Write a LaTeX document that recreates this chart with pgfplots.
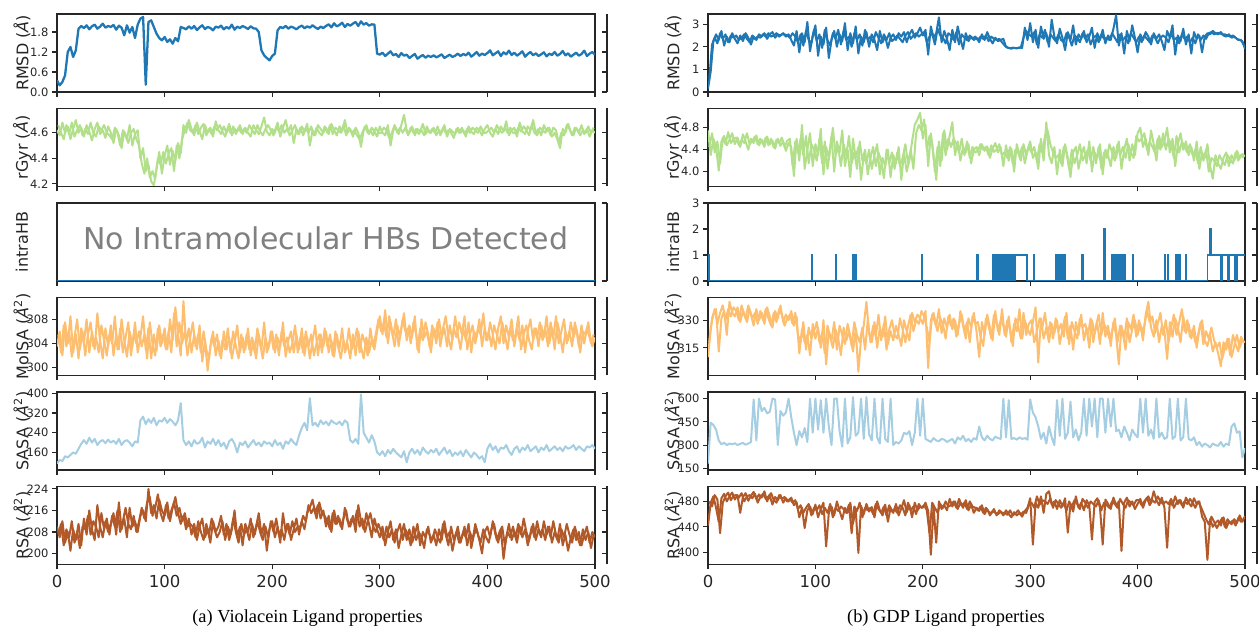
\documentclass[border=0pt]{standalone}
\usepackage{fontspec}
\setmainfont{DejaVu Sans}
\newfontfamily\capfont{Liberation Serif}
\usepackage{pgfplots}
\pgfplotsset{compat=1.18}

\definecolor{cRMSD}{HTML}{1F78B4}
\definecolor{cGyr}{HTML}{B2DF8A}
\definecolor{cMol}{HTML}{FDBF6F}
\definecolor{cSASA}{HTML}{A6CEE3}
\definecolor{cRSA}{HTML}{B15928}
\definecolor{frame}{HTML}{262626}

\pgfplotsset{
  panel/.style={
    scale only axis, anchor=south west, height=78pt,
    xmin=0, xmax=500, xtick={0,100,200,300,400,500}, xticklabels={},
    tick pos=left, tick align=outside, major tick length=5pt,
    axis line style={line width=1.2pt, frame},
    tick style={line width=1.1pt, frame},
    yticklabel style={font=\fontsize{11.5}{12}\selectfont, text=frame},
    xticklabel style={font=\fontsize{16.5}{17}\selectfont, text=frame, yshift=-2pt},
    ylabel style={at={(axis description cs:-0.065,0.5)}, anchor=center,
      font=\fontsize{16}{17}\selectfont, text=frame},
  },
  twin/.style={
    scale only axis, anchor=south west, width=10pt, height=78pt,
    xmin=0, xmax=1, hide x axis, axis y line*=right,
    tick align=inside, major tick length=5pt, yticklabels={},
    axis line style={line width=1.2pt, frame},
    tick style={line width=1.1pt, frame},
  },
  dat/.style={line width=2pt, line join=round},
}

\begin{document}
\begin{tikzpicture}
\useasboundingbox (0pt,0pt) rectangle (1259pt,629pt);

% ---------------- (a) Violacein ----------------
\begin{axis}[panel, at={(57pt,537pt)}, width=538pt, ymin=0, ymax=2.34,
  ytick={0,0.6,1.2,1.8}, yticklabels={0.0,0.6,1.2,1.8}, ylabel={RMSD (\textit{Å})}]
\addplot[dat, line width=2.3pt, cRMSD] table[x expr=\coordindex*2.5, y index=0, header=false, row sep=\\] {
0.35\\ 0.20\\ 0.30\\ 0.50\\ 1.20\\ 1.35\\ 1.05\\ 1.25\\ 1.90\\ 1.98\\
1.92\\ 2.00\\ 1.88\\ 1.97\\ 2.02\\ 1.90\\ 1.96\\ 2.05\\ 1.93\\ 1.98\\
1.95\\ 2.01\\ 1.87\\ 1.99\\ 1.93\\ 1.70\\ 2.00\\ 1.78\\ 1.95\\ 1.62\\
2.02\\ 2.20\\ 2.25\\ 0.22\\ 2.10\\ 2.15\\ 1.95\\ 1.75\\ 1.62\\ 1.55\\
1.65\\ 1.50\\ 1.58\\ 1.45\\ 1.62\\ 1.52\\ 1.95\\ 1.92\\ 1.88\\ 1.97\\
1.90\\ 1.98\\ 1.86\\ 1.94\\ 2.00\\ 1.89\\ 1.95\\ 1.92\\ 1.85\\ 1.96\\
1.93\\ 1.99\\ 1.88\\ 1.95\\ 1.90\\ 2.02\\ 1.87\\ 1.96\\ 1.92\\ 1.98\\
1.94\\ 1.89\\ 1.97\\ 1.91\\ 1.90\\ 1.80\\ 1.25\\ 1.10\\ 1.02\\ 0.95\\
1.08\\ 1.15\\ 1.85\\ 1.95\\ 1.92\\ 1.98\\ 1.90\\ 1.96\\ 1.93\\ 1.88\\
1.95\\ 1.99\\ 1.91\\ 1.97\\ 1.93\\ 2.00\\ 1.94\\ 1.89\\ 1.96\\ 1.92\\
1.98\\ 2.03\\ 1.94\\ 2.06\\ 1.97\\ 2.01\\ 2.08\\ 1.95\\ 2.04\\ 1.99\\
2.05\\ 2.10\\ 1.98\\ 2.12\\ 2.02\\ 2.07\\ 1.99\\ 2.03\\ 2.02\\ 1.15\\
1.12\\ 1.18\\ 1.08\\ 1.15\\ 1.22\\ 1.10\\ 1.14\\ 1.05\\ 1.17\\ 1.09\\
1.12\\ 1.02\\ 1.08\\ 1.14\\ 1.00\\ 1.06\\ 1.11\\ 1.03\\ 1.09\\ 1.05\\
1.10\\ 1.04\\ 1.08\\ 1.13\\ 1.02\\ 1.07\\ 1.12\\ 1.05\\ 1.09\\ 1.15\\
1.08\\ 1.14\\ 1.10\\ 1.18\\ 1.06\\ 1.12\\ 1.20\\ 1.09\\ 1.15\\ 1.11\\
1.17\\ 1.25\\ 1.10\\ 1.16\\ 1.22\\ 1.08\\ 1.19\\ 1.13\\ 1.24\\ 1.11\\
1.18\\ 1.09\\ 1.15\\ 1.22\\ 1.06\\ 1.14\\ 1.20\\ 1.10\\ 1.16\\ 1.08\\
1.13\\ 1.19\\ 1.07\\ 1.15\\ 1.11\\ 1.20\\ 1.09\\ 1.14\\ 1.23\\ 1.10\\
1.16\\ 1.06\\ 1.12\\ 1.18\\ 1.09\\ 1.14\\ 1.24\\ 1.08\\ 1.15\\ 1.20\\
1.12\\
};
\end{axis}
\begin{axis}[twin, at={(597pt,537pt)}, ymin=0, ymax=2.34, ytick={0,0.6,1.2,1.8}]\end{axis}

\begin{axis}[panel, at={(57pt,442.5pt)}, width=538pt, ymin=4.18, ymax=4.79,
  ytick={4.2,4.4,4.6}, yticklabels={4.2,4.4,4.6}, ylabel={rGyr (\textit{Å})}]
\addplot[dat, cGyr] table[x expr=\coordindex*2.5, y index=0, header=false, row sep=\\] {
4.62\\ 4.58\\ 4.68\\ 4.60\\ 4.65\\ 4.55\\ 4.63\\ 4.70\\ 4.60\\ 4.64\\
4.57\\ 4.66\\ 4.61\\ 4.54\\ 4.63\\ 4.68\\ 4.59\\ 4.62\\ 4.56\\ 4.65\\
4.60\\ 4.52\\ 4.63\\ 4.58\\ 4.48\\ 4.61\\ 4.55\\ 4.66\\ 4.50\\ 4.59\\
4.62\\ 4.40\\ 4.48\\ 4.30\\ 4.35\\ 4.22\\ 4.19\\ 4.32\\ 4.45\\ 4.28\\
4.42\\ 4.50\\ 4.35\\ 4.46\\ 4.38\\ 4.52\\ 4.44\\ 4.66\\ 4.60\\ 4.70\\
4.63\\ 4.58\\ 4.68\\ 4.61\\ 4.55\\ 4.66\\ 4.60\\ 4.64\\ 4.57\\ 4.69\\
4.62\\ 4.59\\ 4.65\\ 4.60\\ 4.67\\ 4.58\\ 4.63\\ 4.61\\ 4.66\\ 4.59\\
4.64\\ 4.60\\ 4.57\\ 4.66\\ 4.62\\ 4.59\\ 4.65\\ 4.72\\ 4.61\\ 4.58\\
4.63\\ 4.60\\ 4.68\\ 4.57\\ 4.64\\ 4.70\\ 4.61\\ 4.66\\ 4.52\\ 4.63\\
4.59\\ 4.65\\ 4.61\\ 4.67\\ 4.50\\ 4.62\\ 4.58\\ 4.66\\ 4.63\\ 4.60\\
4.64\\ 4.59\\ 4.67\\ 4.62\\ 4.58\\ 4.65\\ 4.61\\ 4.70\\ 4.60\\ 4.63\\
4.57\\ 4.64\\ 4.60\\ 4.49\\ 4.62\\ 4.66\\ 4.59\\ 4.64\\ 4.61\\ 4.57\\
4.65\\ 4.60\\ 4.58\\ 4.66\\ 4.50\\ 4.62\\ 4.64\\ 4.59\\ 4.66\\ 4.74\\
4.62\\ 4.60\\ 4.65\\ 4.58\\ 4.63\\ 4.61\\ 4.67\\ 4.59\\ 4.62\\ 4.60\\
4.64\\ 4.58\\ 4.62\\ 4.60\\ 4.66\\ 4.57\\ 4.63\\ 4.61\\ 4.59\\ 4.64\\
4.60\\ 4.62\\ 4.57\\ 4.65\\ 4.61\\ 4.59\\ 4.64\\ 4.62\\ 4.58\\ 4.63\\
4.66\\ 4.60\\ 4.57\\ 4.63\\ 4.59\\ 4.65\\ 4.61\\ 4.69\\ 4.58\\ 4.62\\
4.64\\ 4.57\\ 4.68\\ 4.61\\ 4.59\\ 4.65\\ 4.62\\ 4.70\\ 4.60\\ 4.63\\
4.58\\ 4.66\\ 4.61\\ 4.64\\ 4.57\\ 4.60\\ 4.55\\ 4.48\\ 4.63\\ 4.60\\
4.67\\ 4.61\\ 4.58\\ 4.64\\ 4.60\\ 4.66\\ 4.59\\ 4.63\\ 4.57\\ 4.62\\
4.60\\
};
\addplot[dat, cGyr] table[x expr=\coordindex*2.5+1.25, y index=0, header=false, row sep=\\] {
4.66\\ 4.60\\ 4.55\\ 4.66\\ 4.59\\ 4.68\\ 4.57\\ 4.62\\ 4.66\\ 4.58\\
4.63\\ 4.59\\ 4.68\\ 4.60\\ 4.57\\ 4.65\\ 4.62\\ 4.66\\ 4.60\\ 4.58\\
4.55\\ 4.64\\ 4.60\\ 4.50\\ 4.62\\ 4.58\\ 4.52\\ 4.60\\ 4.63\\ 4.55\\
4.50\\ 4.36\\ 4.28\\ 4.40\\ 4.25\\ 4.30\\ 4.24\\ 4.40\\ 4.35\\ 4.45\\
4.36\\ 4.44\\ 4.48\\ 4.30\\ 4.50\\ 4.40\\ 4.55\\ 4.62\\ 4.68\\ 4.62\\
4.60\\ 4.66\\ 4.59\\ 4.64\\ 4.67\\ 4.58\\ 4.63\\ 4.59\\ 4.65\\ 4.62\\
4.66\\ 4.61\\ 4.57\\ 4.64\\ 4.60\\ 4.65\\ 4.59\\ 4.64\\ 4.60\\ 4.63\\
4.60\\ 4.66\\ 4.62\\ 4.59\\ 4.66\\ 4.61\\ 4.58\\ 4.63\\ 4.66\\ 4.62\\
4.58\\ 4.65\\ 4.61\\ 4.66\\ 4.60\\ 4.63\\ 4.58\\ 4.62\\ 4.66\\ 4.59\\
4.64\\ 4.58\\ 4.63\\ 4.60\\ 4.65\\ 4.58\\ 4.64\\ 4.60\\ 4.58\\ 4.65\\
4.60\\ 4.66\\ 4.59\\ 4.64\\ 4.62\\ 4.60\\ 4.66\\ 4.58\\ 4.64\\ 4.60\\
4.62\\ 4.58\\ 4.55\\ 4.60\\ 4.65\\ 4.60\\ 4.62\\ 4.58\\ 4.64\\ 4.60\\
4.60\\ 4.64\\ 4.62\\ 4.56\\ 4.60\\ 4.66\\ 4.60\\ 4.64\\ 4.60\\ 4.64\\
4.58\\ 4.64\\ 4.60\\ 4.63\\ 4.59\\ 4.62\\ 4.58\\ 4.65\\ 4.60\\ 4.63\\
4.60\\ 4.65\\ 4.58\\ 4.64\\ 4.60\\ 4.62\\ 4.60\\ 4.56\\ 4.63\\ 4.60\\
4.64\\ 4.59\\ 4.63\\ 4.60\\ 4.64\\ 4.62\\ 4.60\\ 4.65\\ 4.60\\ 4.60\\
4.62\\ 4.64\\ 4.60\\ 4.66\\ 4.62\\ 4.60\\ 4.64\\ 4.60\\ 4.64\\ 4.60\\
4.60\\ 4.64\\ 4.61\\ 4.65\\ 4.62\\ 4.58\\ 4.66\\ 4.60\\ 4.58\\ 4.64\\
4.62\\ 4.60\\ 4.64\\ 4.58\\ 4.64\\ 4.62\\ 4.52\\ 4.60\\ 4.58\\ 4.66\\
4.63\\ 4.58\\ 4.64\\ 4.62\\ 4.58\\ 4.62\\ 4.60\\ 4.65\\ 4.60\\ 4.64\\
};
\end{axis}
\begin{axis}[twin, at={(597pt,442.5pt)}, ymin=4.18, ymax=4.79, ytick={4.2,4.4,4.6}]\end{axis}

\begin{axis}[panel, at={(57pt,348pt)}, width=538pt, ymin=0, ymax=1,
  ytick=\empty, ylabel={intraHB}]
\addplot[cRMSD, line width=1pt] coordinates {(0,0) (500,0)};
\node[text=black!50, font=\fontsize{30}{30}\selectfont] at (axis description cs:0.5,0.545) {No Intramolecular HBs Detected};
\end{axis}
\begin{axis}[twin, at={(597pt,348pt)}, ymin=0, ymax=1, ytick={0,1}]\end{axis}

\begin{axis}[panel, at={(57pt,253.5pt)}, width=538pt, ymin=298.7, ymax=311.6,
  ytick={300,304,308}, yticklabels={300,304,308}, ylabel={MolSA (\textit{Å}\textsuperscript{2})}]
\addplot[dat, cMol] table[x expr=\coordindex*2.5, y index=0, header=false, row sep=\\] {
303.5\\ 306.0\\ 302.0\\ 307.5\\ 304.0\\ 308.5\\ 302.5\\ 305.5\\ 301.5\\ 306.5\\
304.0\\ 308.0\\ 302.5\\ 306.0\\ 303.0\\ 309.0\\ 304.5\\ 301.5\\ 306.5\\ 303.5\\
307.0\\ 302.0\\ 305.5\\ 303.0\\ 308.0\\ 304.5\\ 301.8\\ 306.0\\ 303.5\\ 307.5\\
302.5\\ 305.0\\ 308.5\\ 303.0\\ 306.5\\ 301.5\\ 305.5\\ 302.8\\ 307.0\\ 304.0\\
306.5\\ 303.0\\ 308.0\\ 304.5\\ 310.0\\ 305.5\\ 302.0\\ 311.0\\ 304.0\\ 306.5\\
302.5\\ 305.5\\ 303.0\\ 307.0\\ 301.0\\ 304.5\\ 299.5\\ 303.5\\ 306.0\\ 302.0\\
304.5\\ 301.5\\ 306.0\\ 303.0\\ 305.0\\ 301.5\\ 304.0\\ 307.0\\ 302.5\\ 305.0\\
303.0\\ 306.5\\ 302.0\\ 304.5\\ 301.5\\ 305.5\\ 303.0\\ 307.5\\ 302.5\\ 304.0\\
306.0\\ 302.5\\ 305.0\\ 303.5\\ 307.5\\ 301.8\\ 304.5\\ 306.0\\ 302.5\\ 305.5\\
303.0\\ 306.5\\ 302.0\\ 305.0\\ 301.5\\ 304.5\\ 307.0\\ 302.0\\ 305.5\\ 303.5\\
306.0\\ 302.5\\ 304.5\\ 301.8\\ 305.5\\ 303.0\\ 306.5\\ 302.5\\ 304.0\\ 301.5\\
305.5\\ 302.0\\ 306.0\\ 303.5\\ 301.5\\ 305.0\\ 302.5\\ 304.5\\ 303.0\\ 306.0\\
308.5\\ 305.5\\ 309.5\\ 304.0\\ 307.5\\ 305.0\\ 308.0\\ 303.5\\ 306.5\\ 309.0\\
304.5\\ 307.0\\ 305.0\\ 308.5\\ 303.0\\ 306.5\\ 304.5\\ 307.5\\ 305.5\\ 302.5\\
306.5\\ 304.0\\ 308.0\\ 305.0\\ 306.5\\ 303.5\\ 307.0\\ 304.5\\ 308.5\\ 305.5\\
303.0\\ 306.5\\ 304.5\\ 307.5\\ 302.5\\ 306.0\\ 305.0\\ 308.0\\ 303.5\\ 306.5\\
304.5\\ 307.5\\ 305.5\\ 303.0\\ 306.5\\ 308.5\\ 304.0\\ 307.0\\ 305.0\\ 308.0\\
303.5\\ 306.5\\ 304.5\\ 307.0\\ 302.5\\ 306.0\\ 308.0\\ 304.5\\ 306.5\\ 303.5\\
307.0\\ 305.0\\ 308.5\\ 304.0\\ 306.5\\ 303.0\\ 307.5\\ 305.5\\ 302.5\\ 306.0\\
304.5\\ 307.5\\ 305.0\\ 306.5\\ 303.5\\ 307.0\\ 304.0\\ 306.5\\ 305.0\\ 303.5\\
305.0\\
};
\addplot[dat, cMol] table[x expr=\coordindex*2.5+1.25, y index=0, header=false, row sep=\\] {
305.5\\ 302.5\\ 307.0\\ 303.5\\ 306.0\\ 301.8\\ 305.0\\ 308.0\\ 303.0\\ 306.0\\
302.0\\ 305.5\\ 307.5\\ 303.5\\ 305.0\\ 302.5\\ 307.0\\ 304.5\\ 302.0\\ 305.5\\
304.0\\ 308.5\\ 303.0\\ 306.5\\ 302.5\\ 305.0\\ 307.5\\ 302.0\\ 305.5\\ 304.0\\
306.0\\ 303.5\\ 305.5\\ 301.5\\ 307.5\\ 304.0\\ 302.0\\ 306.5\\ 303.5\\ 305.5\\
303.0\\ 306.0\\ 302.5\\ 309.0\\ 303.5\\ 307.5\\ 304.0\\ 306.0\\ 302.0\\ 305.0\\
307.5\\ 303.5\\ 305.5\\ 302.5\\ 306.0\\ 303.0\\ 301.5\\ 305.0\\ 303.5\\ 305.5\\
302.0\\ 304.5\\ 303.0\\ 306.5\\ 302.5\\ 306.0\\ 303.5\\ 301.5\\ 305.5\\ 302.5\\
305.5\\ 303.0\\ 305.0\\ 302.5\\ 306.5\\ 304.0\\ 301.5\\ 305.0\\ 303.0\\ 306.0\\
303.0\\ 305.5\\ 302.0\\ 306.0\\ 303.5\\ 305.0\\ 302.5\\ 304.0\\ 307.0\\ 302.5\\
305.0\\ 302.5\\ 306.0\\ 303.5\\ 305.5\\ 302.0\\ 304.0\\ 305.5\\ 302.5\\ 306.5\\
303.5\\ 305.5\\ 302.0\\ 306.0\\ 303.5\\ 301.5\\ 304.5\\ 303.0\\ 306.5\\ 303.0\\
304.0\\ 306.5\\ 302.5\\ 305.5\\ 304.0\\ 302.0\\ 306.5\\ 303.5\\ 305.5\\ 308.0\\
306.0\\ 307.5\\ 305.0\\ 308.5\\ 306.0\\ 303.5\\ 307.0\\ 305.0\\ 308.0\\ 306.0\\
306.5\\ 304.0\\ 307.5\\ 305.5\\ 302.5\\ 308.0\\ 305.0\\ 306.0\\ 303.5\\ 307.0\\
305.0\\ 307.5\\ 303.5\\ 306.5\\ 308.5\\ 305.0\\ 303.0\\ 306.5\\ 305.0\\ 307.5\\
305.5\\ 308.5\\ 303.0\\ 305.5\\ 307.0\\ 304.0\\ 306.5\\ 305.5\\ 309.0\\ 304.5\\
306.0\\ 303.5\\ 307.0\\ 305.5\\ 304.0\\ 307.5\\ 305.5\\ 303.0\\ 306.5\\ 304.5\\
305.5\\ 308.5\\ 303.0\\ 305.5\\ 307.0\\ 304.5\\ 303.0\\ 306.5\\ 305.0\\ 307.5\\
304.5\\ 306.5\\ 303.5\\ 307.5\\ 305.0\\ 308.5\\ 304.0\\ 306.0\\ 308.0\\ 304.0\\
306.0\\ 303.5\\ 307.5\\ 305.5\\ 302.5\\ 306.0\\ 305.5\\ 307.5\\ 304.0\\ 305.5\\
};
\end{axis}
\begin{axis}[twin, at={(597pt,253.5pt)}, ymin=298.7, ymax=311.6, ytick={300,304,308}]\end{axis}

\begin{axis}[panel, at={(57pt,159pt)}, width=538pt, ymin=89, ymax=405,
  ytick={160,240,320,400}, yticklabels={160,240,320,400}, ylabel={SASA (\textit{Å}\textsuperscript{2})}]
\addplot[dat, cSASA] table[x expr=\coordindex*2.5, y index=0, header=false, row sep=\\] {
115\\ 130\\ 125\\ 145\\ 140\\ 150\\ 160\\ 155\\ 175\\ 195\\
210\\ 195\\ 220\\ 200\\ 215\\ 190\\ 205\\ 210\\ 198\\ 212\\
200\\ 208\\ 195\\ 215\\ 190\\ 205\\ 210\\ 200\\ 185\\ 205\\
200\\ 290\\ 305\\ 275\\ 295\\ 280\\ 300\\ 270\\ 290\\ 285\\
300\\ 280\\ 295\\ 285\\ 270\\ 290\\ 360\\ 210\\ 190\\ 205\\
185\\ 210\\ 195\\ 200\\ 220\\ 180\\ 205\\ 195\\ 215\\ 190\\
210\\ 185\\ 200\\ 175\\ 205\\ 215\\ 195\\ 160\\ 200\\ 190\\
205\\ 180\\ 195\\ 210\\ 190\\ 200\\ 185\\ 205\\ 195\\ 200\\
185\\ 210\\ 190\\ 200\\ 175\\ 205\\ 195\\ 215\\ 200\\ 190\\
230\\ 260\\ 280\\ 250\\ 380\\ 270\\ 280\\ 265\\ 290\\ 275\\
285\\ 270\\ 290\\ 280\\ 275\\ 285\\ 270\\ 290\\ 280\\ 210\\
200\\ 215\\ 195\\ 395\\ 240\\ 220\\ 200\\ 230\\ 205\\ 160\\
150\\ 165\\ 145\\ 170\\ 155\\ 175\\ 160\\ 150\\ 140\\ 165\\
120\\ 160\\ 175\\ 155\\ 170\\ 150\\ 180\\ 165\\ 155\\ 170\\
160\\ 175\\ 150\\ 165\\ 180\\ 155\\ 170\\ 145\\ 160\\ 150\\
165\\ 145\\ 170\\ 155\\ 140\\ 160\\ 150\\ 135\\ 145\\ 120\\
175\\ 195\\ 170\\ 185\\ 160\\ 180\\ 175\\ 190\\ 165\\ 150\\
175\\ 185\\ 160\\ 180\\ 170\\ 190\\ 165\\ 175\\ 185\\ 160\\
180\\ 170\\ 190\\ 165\\ 175\\ 185\\ 170\\ 180\\ 165\\ 185\\
175\\ 180\\ 190\\ 170\\ 185\\ 175\\ 165\\ 185\\ 180\\ 190\\
175\\
};
\end{axis}
\begin{axis}[twin, at={(597pt,159pt)}, ymin=89, ymax=405, ytick={160,240,320,400}]\end{axis}

\begin{axis}[panel, at={(57pt,64.5pt)}, width=538pt, ymin=195.9, ymax=224.9,
  ytick={200,208,216,224}, yticklabels={200,208,216,224}, ylabel={RSA (\textit{Å}\textsuperscript{2})},
  xticklabels={0,100,200,300,400,500}]
\addplot[dat, cRSA] table[x expr=\coordindex*2.5, y index=0, header=false, row sep=\\] {
210\\ 206\\ 212\\ 204\\ 208\\ 201\\ 209\\ 205\\ 211\\ 203\\
213\\ 207\\ 216\\ 209\\ 205\\ 218\\ 210\\ 206\\ 212\\ 208\\
211\\ 215\\ 207\\ 219\\ 209\\ 213\\ 206\\ 217\\ 210\\ 212\\
208\\ 214\\ 216\\ 212\\ 224\\ 215\\ 218\\ 213\\ 220\\ 216\\
214\\ 219\\ 212\\ 217\\ 221\\ 215\\ 211\\ 214\\ 209\\ 213\\
207\\ 211\\ 205\\ 210\\ 213\\ 206\\ 209\\ 204\\ 212\\ 208\\
210\\ 214\\ 207\\ 211\\ 205\\ 209\\ 216\\ 206\\ 210\\ 203\\
211\\ 208\\ 213\\ 206\\ 210\\ 215\\ 207\\ 211\\ 201\\ 209\\
212\\ 206\\ 210\\ 204\\ 215\\ 208\\ 211\\ 205\\ 209\\ 213\\
207\\ 212\\ 209\\ 215\\ 217\\ 220\\ 215\\ 218\\ 213\\ 216\\
210\\ 214\\ 208\\ 216\\ 211\\ 213\\ 209\\ 217\\ 212\\ 210\\
214\\ 208\\ 218\\ 212\\ 209\\ 215\\ 211\\ 206\\ 213\\ 209\\
206\\ 210\\ 203\\ 208\\ 212\\ 205\\ 209\\ 202\\ 207\\ 211\\
205\\ 209\\ 204\\ 207\\ 211\\ 203\\ 208\\ 206\\ 210\\ 204\\
207\\ 203\\ 209\\ 205\\ 212\\ 206\\ 208\\ 201\\ 206\\ 210\\
204\\ 208\\ 206\\ 211\\ 202\\ 207\\ 209\\ 205\\ 200\\ 208\\
210\\ 206\\ 212\\ 207\\ 204\\ 209\\ 198\\ 206\\ 211\\ 205\\
208\\ 204\\ 210\\ 206\\ 209\\ 203\\ 207\\ 211\\ 205\\ 209\\
206\\ 212\\ 207\\ 210\\ 204\\ 208\\ 205\\ 211\\ 203\\ 207\\
201\\ 206\\ 209\\ 205\\ 208\\ 203\\ 207\\ 210\\ 204\\ 208\\
206\\
};
\addplot[dat, cRSA] table[x expr=\coordindex*2.5+1.25, y index=0, header=false, row sep=\\] {
207\\ 211\\ 203\\ 209\\ 206\\ 212\\ 204\\ 208\\ 202\\ 210\\
209\\ 214\\ 207\\ 212\\ 210\\ 206\\ 215\\ 209\\ 213\\ 207\\
214\\ 210\\ 216\\ 208\\ 212\\ 217\\ 211\\ 209\\ 214\\ 208\\
212\\ 217\\ 213\\ 219\\ 221\\ 214\\ 217\\ 222\\ 215\\ 212\\
218\\ 213\\ 216\\ 219\\ 214\\ 217\\ 212\\ 215\\ 210\\ 211\\
210\\ 206\\ 212\\ 208\\ 205\\ 211\\ 207\\ 213\\ 209\\ 206\\
208\\ 212\\ 205\\ 210\\ 207\\ 213\\ 208\\ 204\\ 211\\ 207\\
209\\ 205\\ 211\\ 207\\ 212\\ 208\\ 205\\ 210\\ 206\\ 212\\
208\\ 213\\ 207\\ 209\\ 205\\ 211\\ 207\\ 212\\ 208\\ 210\\
210\\ 214\\ 212\\ 218\\ 215\\ 217\\ 213\\ 219\\ 215\\ 214\\
212\\ 209\\ 215\\ 211\\ 214\\ 210\\ 213\\ 216\\ 210\\ 213\\
211\\ 216\\ 210\\ 213\\ 208\\ 212\\ 215\\ 210\\ 208\\ 211\\
208\\ 205\\ 210\\ 206\\ 209\\ 204\\ 208\\ 211\\ 205\\ 209\\
207\\ 203\\ 210\\ 205\\ 208\\ 206\\ 202\\ 209\\ 207\\ 205\\
209\\ 206\\ 204\\ 211\\ 207\\ 203\\ 210\\ 205\\ 208\\ 204\\
206\\ 210\\ 203\\ 208\\ 205\\ 211\\ 207\\ 204\\ 209\\ 206\\
204\\ 209\\ 211\\ 205\\ 208\\ 210\\ 203\\ 208\\ 206\\ 210\\
206\\ 211\\ 207\\ 213\\ 208\\ 205\\ 210\\ 206\\ 212\\ 207\\
209\\ 205\\ 210\\ 206\\ 212\\ 207\\ 204\\ 209\\ 206\\ 211\\
207\\ 204\\ 210\\ 206\\ 203\\ 209\\ 205\\ 208\\ 202\\ 207\\
};
\end{axis}
\begin{axis}[twin, at={(597pt,64.5pt)}, ymin=195.9, ymax=224.9, ytick={200,208,216,224}]\end{axis}

% ---------------- (b) GDP ----------------
\begin{axis}[panel, at={(708pt,537pt)}, width=537pt, ymin=0, ymax=3.45,
  ytick={0,1,2,3}, yticklabels={0,1,2,3}, ylabel={RMSD (\textit{Å})}]
\addplot[dat, cRMSD] table[x expr=\coordindex*2.5, y index=0, header=false, row sep=\\] {
0.15\\ 0.90\\ 2.25\\ 2.55\\ 2.30\\ 2.70\\ 2.05\\ 2.45\\ 2.20\\ 2.60\\
2.35\\ 2.15\\ 2.50\\ 2.25\\ 2.60\\ 2.40\\ 2.10\\ 2.45\\ 2.30\\ 2.55\\
2.45\\ 2.60\\ 2.35\\ 2.55\\ 2.65\\ 2.40\\ 2.55\\ 2.50\\ 2.60\\ 2.45\\
2.55\\ 2.30\\ 2.05\\ 2.70\\ 1.75\\ 2.60\\ 2.20\\ 3.10\\ 1.80\\ 2.50\\
2.95\\ 1.60\\ 2.45\\ 2.10\\ 2.85\\ 1.50\\ 2.30\\ 2.70\\ 2.00\\ 2.55\\
2.25\\ 3.05\\ 1.85\\ 2.60\\ 2.15\\ 2.90\\ 1.70\\ 2.45\\ 2.20\\ 2.65\\
2.00\\ 2.55\\ 2.30\\ 1.85\\ 2.70\\ 2.20\\ 2.45\\ 1.95\\ 2.40\\ 2.55\\
2.30\\ 2.60\\ 2.45\\ 2.65\\ 2.20\\ 2.55\\ 2.75\\ 2.40\\ 2.60\\ 2.85\\
2.50\\ 2.75\\ 1.65\\ 2.90\\ 2.40\\ 2.60\\ 3.30\\ 2.20\\ 2.70\\ 2.35\\
1.85\\ 2.75\\ 2.20\\ 2.90\\ 2.35\\ 1.90\\ 2.60\\ 2.25\\ 2.45\\ 2.30\\
2.40\\ 2.20\\ 2.55\\ 2.30\\ 2.65\\ 2.35\\ 2.15\\ 2.40\\ 2.25\\ 2.30\\
2.35\\ 2.00\\ 1.95\\ 1.92\\ 1.95\\ 1.93\\ 1.97\\ 1.95\\ 2.85\\ 2.30\\
3.05\\ 2.20\\ 2.75\\ 1.95\\ 2.90\\ 2.35\\ 2.60\\ 2.00\\ 3.20\\ 2.45\\
2.15\\ 2.80\\ 2.40\\ 1.85\\ 2.65\\ 2.30\\ 2.95\\ 2.10\\ 2.55\\ 2.35\\
2.70\\ 2.20\\ 2.45\\ 2.85\\ 1.95\\ 2.60\\ 2.30\\ 2.75\\ 2.15\\ 2.50\\
2.30\\ 2.80\\ 3.40\\ 2.05\\ 2.60\\ 1.70\\ 2.70\\ 2.25\\ 2.95\\ 2.40\\
1.75\\ 2.55\\ 2.30\\ 2.65\\ 2.45\\ 2.10\\ 2.60\\ 2.35\\ 2.55\\ 2.25\\
1.85\\ 2.70\\ 2.40\\ 2.95\\ 1.65\\ 2.50\\ 2.25\\ 2.80\\ 2.10\\ 2.55\\
1.70\\ 2.65\\ 2.35\\ 2.50\\ 1.75\\ 2.45\\ 2.60\\ 2.55\\ 2.70\\ 2.60\\
2.55\\ 2.65\\ 2.50\\ 2.45\\ 2.55\\ 2.40\\ 2.45\\ 2.35\\ 2.30\\ 2.25\\
1.90\\
};
\addplot[dat, cRMSD] table[x expr=\coordindex*2.5+1.25, y index=0, header=false, row sep=\\] {
0.60\\ 2.10\\ 2.40\\ 2.15\\ 2.60\\ 2.35\\ 2.55\\ 2.20\\ 2.50\\ 2.40\\
2.50\\ 2.30\\ 2.40\\ 2.55\\ 2.35\\ 2.20\\ 2.50\\ 2.35\\ 2.45\\ 2.40\\
2.55\\ 2.45\\ 2.60\\ 2.45\\ 2.50\\ 2.60\\ 2.45\\ 2.55\\ 2.55\\ 2.50\\
2.40\\ 2.60\\ 2.45\\ 2.20\\ 2.55\\ 2.05\\ 2.70\\ 2.30\\ 2.15\\ 2.75\\
2.25\\ 2.55\\ 1.95\\ 2.75\\ 2.30\\ 2.05\\ 2.60\\ 2.35\\ 2.75\\ 2.10\\
2.70\\ 2.30\\ 2.45\\ 2.00\\ 2.60\\ 2.30\\ 2.55\\ 2.05\\ 2.75\\ 2.30\\
2.45\\ 2.20\\ 2.65\\ 2.40\\ 2.15\\ 2.55\\ 2.30\\ 2.60\\ 2.25\\ 2.35\\
2.50\\ 2.35\\ 2.20\\ 2.50\\ 2.65\\ 2.35\\ 2.50\\ 2.60\\ 2.45\\ 2.55\\
2.65\\ 2.20\\ 2.45\\ 2.60\\ 2.10\\ 2.80\\ 2.50\\ 2.40\\ 2.15\\ 2.60\\
2.50\\ 2.30\\ 2.65\\ 2.10\\ 2.55\\ 2.40\\ 2.30\\ 2.50\\ 2.35\\ 2.45\\
2.30\\ 2.45\\ 2.35\\ 2.50\\ 2.25\\ 2.45\\ 2.35\\ 2.30\\ 2.35\\ 2.20\\
2.05\\ 1.96\\ 1.94\\ 1.96\\ 1.94\\ 1.95\\ 1.96\\ 2.40\\ 2.70\\ 2.55\\
2.45\\ 2.65\\ 2.10\\ 2.55\\ 2.40\\ 2.75\\ 2.20\\ 2.55\\ 2.40\\ 2.25\\
2.55\\ 2.30\\ 2.20\\ 2.60\\ 2.40\\ 2.05\\ 2.50\\ 2.40\\ 2.20\\ 2.60\\
2.35\\ 2.55\\ 2.10\\ 2.40\\ 2.50\\ 2.20\\ 2.55\\ 2.35\\ 2.40\\ 2.30\\
2.60\\ 2.40\\ 2.20\\ 2.55\\ 2.30\\ 2.45\\ 2.15\\ 2.60\\ 2.40\\ 2.20\\
2.45\\ 2.20\\ 2.50\\ 2.35\\ 2.20\\ 2.50\\ 2.40\\ 2.15\\ 2.40\\ 2.50\\
2.40\\ 2.20\\ 2.60\\ 2.30\\ 2.40\\ 2.15\\ 2.55\\ 2.35\\ 2.45\\ 2.20\\
2.40\\ 2.15\\ 2.55\\ 2.30\\ 2.50\\ 2.35\\ 2.60\\ 2.65\\ 2.55\\ 2.60\\
2.60\\ 2.55\\ 2.55\\ 2.50\\ 2.45\\ 2.50\\ 2.40\\ 2.30\\ 2.30\\ 2.10\\
};
\end{axis}
\begin{axis}[twin, at={(1247pt,537pt)}, ymin=0, ymax=3.45, ytick={0,1,2,3}]\end{axis}

\begin{axis}[panel, at={(708pt,442.5pt)}, width=537pt, ymin=3.73, ymax=5.15,
  ytick={4.0,4.4,4.8}, yticklabels={4.0,4.4,4.8}, ylabel={rGyr (\textit{Å})}]
\addplot[dat, cGyr] table[x expr=\coordindex*2.5, y index=0, header=false, row sep=\\] {
4.75\\ 4.30\\ 4.60\\ 4.45\\ 4.02\\ 4.55\\ 4.65\\ 4.48\\ 4.58\\ 4.70\\
4.50\\ 4.62\\ 4.45\\ 4.68\\ 4.55\\ 4.40\\ 4.60\\ 4.52\\ 4.66\\ 4.48\\
4.58\\ 4.45\\ 4.64\\ 4.50\\ 4.56\\ 4.42\\ 4.60\\ 4.47\\ 4.55\\ 4.38\\
4.52\\ 4.45\\ 3.92\\ 4.60\\ 4.20\\ 4.85\\ 4.05\\ 4.40\\ 4.70\\ 4.10\\
4.50\\ 4.30\\ 4.78\\ 3.95\\ 4.45\\ 4.25\\ 4.65\\ 4.00\\ 4.55\\ 4.35\\
4.75\\ 4.10\\ 4.40\\ 3.90\\ 4.60\\ 4.25\\ 4.45\\ 3.85\\ 4.30\\ 4.15\\
4.40\\ 4.05\\ 4.30\\ 4.50\\ 3.95\\ 4.25\\ 4.10\\ 4.40\\ 3.90\\ 4.30\\
4.15\\ 4.45\\ 3.85\\ 4.35\\ 4.00\\ 4.20\\ 4.55\\ 4.85\\ 4.95\\ 5.07\\
4.60\\ 4.85\\ 4.10\\ 4.70\\ 4.30\\ 3.85\\ 4.55\\ 4.20\\ 4.75\\ 4.40\\
4.65\\ 4.90\\ 4.30\\ 4.55\\ 4.20\\ 4.45\\ 4.35\\ 4.50\\ 4.15\\ 4.40\\
4.45\\ 4.30\\ 4.50\\ 4.38\\ 4.46\\ 4.25\\ 4.42\\ 4.52\\ 4.35\\ 4.44\\
4.10\\ 4.48\\ 4.20\\ 4.42\\ 4.00\\ 4.50\\ 4.30\\ 4.45\\ 4.15\\ 4.40\\
4.55\\ 4.25\\ 4.35\\ 4.05\\ 4.60\\ 4.20\\ 4.90\\ 4.30\\ 4.15\\ 4.45\\
3.95\\ 4.40\\ 4.10\\ 4.50\\ 4.25\\ 3.90\\ 4.35\\ 4.45\\ 4.05\\ 4.30\\
4.45\\ 4.15\\ 4.55\\ 4.00\\ 4.35\\ 4.25\\ 4.50\\ 3.95\\ 4.40\\ 4.30\\
4.10\\ 4.45\\ 4.25\\ 4.55\\ 4.05\\ 4.40\\ 4.60\\ 4.20\\ 4.50\\ 4.30\\
4.70\\ 4.80\\ 4.45\\ 4.60\\ 4.30\\ 4.75\\ 4.50\\ 4.20\\ 4.65\\ 4.45\\
4.55\\ 4.80\\ 4.35\\ 4.60\\ 4.10\\ 4.50\\ 4.70\\ 4.40\\ 4.55\\ 4.30\\
4.45\\ 4.20\\ 4.55\\ 4.05\\ 4.35\\ 4.25\\ 4.50\\ 4.10\\ 3.87\\ 4.30\\
4.15\\ 4.05\\ 4.25\\ 4.35\\ 4.10\\ 4.30\\ 4.20\\ 4.38\\ 4.25\\ 4.32\\
4.28\\
};
\addplot[dat, cGyr] table[x expr=\coordindex*2.5+1.25, y index=0, header=false, row sep=\\] {
4.45\\ 4.70\\ 4.35\\ 4.55\\ 4.15\\ 4.62\\ 4.50\\ 4.72\\ 4.52\\ 4.60\\
4.62\\ 4.48\\ 4.58\\ 4.52\\ 4.70\\ 4.50\\ 4.56\\ 4.64\\ 4.50\\ 4.60\\
4.50\\ 4.62\\ 4.48\\ 4.60\\ 4.44\\ 4.58\\ 4.52\\ 4.62\\ 4.45\\ 4.56\\
4.60\\ 4.10\\ 4.55\\ 4.35\\ 4.60\\ 4.30\\ 4.65\\ 4.15\\ 4.50\\ 4.40\\
4.20\\ 4.60\\ 4.15\\ 4.55\\ 4.05\\ 4.40\\ 4.80\\ 4.30\\ 4.45\\ 4.10\\
4.50\\ 4.30\\ 4.65\\ 4.15\\ 4.35\\ 4.05\\ 4.55\\ 4.20\\ 4.40\\ 3.95\\
4.25\\ 4.45\\ 4.10\\ 4.35\\ 4.20\\ 3.88\\ 4.40\\ 4.15\\ 4.35\\ 4.05\\
4.35\\ 4.10\\ 4.25\\ 4.50\\ 4.15\\ 4.40\\ 4.05\\ 4.70\\ 4.85\\ 4.75\\
4.95\\ 4.40\\ 4.65\\ 4.50\\ 4.00\\ 4.45\\ 4.10\\ 4.70\\ 4.30\\ 4.60\\
4.45\\ 4.60\\ 4.50\\ 4.35\\ 4.60\\ 4.30\\ 4.55\\ 4.25\\ 4.45\\ 4.35\\
4.38\\ 4.50\\ 4.40\\ 4.45\\ 4.30\\ 4.48\\ 4.36\\ 4.40\\ 4.50\\ 4.30\\
4.35\\ 4.25\\ 4.45\\ 4.15\\ 4.40\\ 4.35\\ 4.20\\ 4.50\\ 4.30\\ 4.45\\
4.35\\ 4.45\\ 4.20\\ 4.50\\ 4.35\\ 4.65\\ 4.75\\ 4.50\\ 4.35\\ 4.25\\
4.30\\ 4.15\\ 4.45\\ 4.35\\ 4.05\\ 4.40\\ 4.15\\ 4.30\\ 4.50\\ 4.20\\
4.30\\ 4.40\\ 4.20\\ 4.45\\ 4.15\\ 4.45\\ 4.05\\ 4.35\\ 4.25\\ 4.50\\
4.35\\ 4.20\\ 4.50\\ 4.30\\ 4.45\\ 4.25\\ 4.50\\ 4.35\\ 4.25\\ 4.65\\
4.55\\ 4.60\\ 4.70\\ 4.40\\ 4.55\\ 4.45\\ 4.35\\ 4.60\\ 4.40\\ 4.70\\
4.40\\ 4.60\\ 4.50\\ 4.25\\ 4.65\\ 4.35\\ 4.55\\ 4.45\\ 4.35\\ 4.50\\
4.30\\ 4.40\\ 4.15\\ 4.45\\ 4.20\\ 4.40\\ 4.00\\ 4.25\\ 4.20\\ 4.10\\
4.30\\ 4.20\\ 4.12\\ 4.30\\ 4.22\\ 4.15\\ 4.35\\ 4.20\\ 4.30\\ 4.25\\
};
\end{axis}
\begin{axis}[twin, at={(1247pt,442.5pt)}, ymin=3.73, ymax=5.15, ytick={4.0,4.4,4.8}]\end{axis}

\begin{axis}[panel, at={(708pt,348pt)}, width=537pt, ymin=0, ymax=3,
  ytick={0,1,2,3}, yticklabels={0,1,2,3}, ylabel={intraHB}]
\addplot[cRMSD, line width=1.8pt, const plot] coordinates {
(0,0)(0,1)(0.8,0)(96.5,1)(97.2,0)(118.9,1)(119.6,0)(135.3,1)(136,0)(136.8,1)(137.5,0)
(199,1)(199.7,0)(250.7,1)(251.4,0)(265.6,1)(266.2,0)(267.5,1)(268.2,0)(269.5,1)(270,0)
(271,1)(271.8,0)(273,1)(273.6,0)(274.9,1)(275.5,0)(276.5,1)(277.2,0)(278.5,1)(279,0)
(280,1)(280.6,0)(282,1)(282.6,0)(284,1)(284.6,0)(286,1)(296.7,0)(303,1)(303.7,0)
(324,1)(324.6,0)(326.5,1)(327.2,0)(329,1)(329.6,0)(331.8,1)(332.4,0)(348.5,1)(349.2,0)
(368.7,2)(369.4,0)(375.8,1)(376.4,0)(378,1)(378.7,0)(380.5,1)(381.2,0)(383,1)(383.6,0)
(385,1)(385.6,0)(387.5,1)(388.2,0)(395.5,1)(396.2,0)(425,1)(425.6,0)(428,1)(428.6,0)
(435.7,1)(436.4,0)(438.8,1)(439.4,0)(445,1)(445.6,0)(465,1)(467.6,2)(468.4,1)(477.8,0)
(478.5,1)(483.8,0)(485.5,1)(490.6,0)(492.2,1)(500,1)
};
\end{axis}
\begin{axis}[twin, at={(1247pt,348pt)}, ymin=0, ymax=3, ytick={0,1,2,3}]\end{axis}

\begin{axis}[panel, at={(708pt,253.5pt)}, width=537pt, ymin=300, ymax=342.3,
  ytick={315,330}, yticklabels={315,330}, ylabel={MolSA (\textit{Å}\textsuperscript{2})}]
\addplot[dat, cMol] table[x expr=\coordindex*2.5, y index=0, header=false, row sep=\\] {
310\\ 326\\ 333\\ 336\\ 313\\ 331\\ 335\\ 322\\ 340\\ 334\\
332\\ 337\\ 329\\ 335\\ 331\\ 338\\ 333\\ 327\\ 336\\ 330\\
334\\ 328\\ 337\\ 332\\ 326\\ 335\\ 331\\ 338\\ 329\\ 333\\
330\\ 335\\ 327\\ 332\\ 312\\ 325\\ 318\\ 322\\ 311\\ 328\\
320\\ 326\\ 315\\ 330\\ 306\\ 324\\ 319\\ 329\\ 314\\ 327\\
322\\ 317\\ 328\\ 321\\ 313\\ 325\\ 302\\ 320\\ 327\\ 340\\
323\\ 318\\ 329\\ 315\\ 326\\ 321\\ 332\\ 317\\ 324\\ 319\\
327\\ 322\\ 316\\ 330\\ 324\\ 319\\ 334\\ 329\\ 333\\ 331\\
328\\ 335\\ 304\\ 330\\ 334\\ 327\\ 336\\ 323\\ 331\\ 326\\
333\\ 325\\ 330\\ 322\\ 335\\ 327\\ 320\\ 331\\ 326\\ 334\\
324\\ 310\\ 329\\ 322\\ 333\\ 326\\ 319\\ 335\\ 324\\ 330\\
327\\ 321\\ 332\\ 318\\ 328\\ 324\\ 336\\ 320\\ 330\\ 325\\
322\\ 329\\ 337\\ 307\\ 331\\ 320\\ 326\\ 318\\ 328\\ 323\\
330\\ 317\\ 325\\ 332\\ 320\\ 327\\ 314\\ 329\\ 322\\ 333\\
319\\ 326\\ 315\\ 330\\ 323\\ 328\\ 317\\ 334\\ 321\\ 327\\
316\\ 329\\ 322\\ 306\\ 327\\ 320\\ 331\\ 318\\ 325\\ 330\\
322\\ 328\\ 319\\ 333\\ 340\\ 326\\ 321\\ 330\\ 318\\ 327\\
324\\ 309\\ 329\\ 321\\ 331\\ 326\\ 318\\ 332\\ 323\\ 328\\
320\\ 327\\ 315\\ 325\\ 330\\ 319\\ 316\\ 322\\ 313\\ 318\\
312\\ 305\\ 318\\ 314\\ 320\\ 310\\ 316\\ 322\\ 315\\ 319\\
318\\
};
\addplot[dat, cMol] table[x expr=\coordindex*2.5+1.25, y index=0, header=false, row sep=\\] {
318\\ 331\\ 336\\ 328\\ 334\\ 338\\ 330\\ 336\\ 332\\ 337\\
335\\ 330\\ 338\\ 333\\ 329\\ 336\\ 331\\ 334\\ 328\\ 335\\
330\\ 336\\ 331\\ 327\\ 334\\ 329\\ 336\\ 333\\ 327\\ 331\\
333\\ 328\\ 334\\ 322\\ 318\\ 329\\ 314\\ 326\\ 320\\ 324\\
329\\ 318\\ 323\\ 312\\ 327\\ 321\\ 315\\ 325\\ 320\\ 311\\
326\\ 319\\ 324\\ 316\\ 329\\ 322\\ 318\\ 326\\ 314\\ 330\\
318\\ 327\\ 321\\ 333\\ 319\\ 328\\ 314\\ 325\\ 330\\ 322\\
320\\ 331\\ 325\\ 318\\ 327\\ 333\\ 324\\ 330\\ 328\\ 335\\
332\\ 326\\ 318\\ 333\\ 329\\ 324\\ 331\\ 328\\ 320\\ 332\\
327\\ 331\\ 321\\ 328\\ 333\\ 324\\ 329\\ 318\\ 332\\ 328\\
329\\ 321\\ 316\\ 331\\ 327\\ 320\\ 333\\ 328\\ 322\\ 336\\
322\\ 330\\ 325\\ 316\\ 331\\ 327\\ 320\\ 334\\ 322\\ 328\\
330\\ 318\\ 324\\ 331\\ 326\\ 334\\ 322\\ 329\\ 320\\ 331\\
324\\ 328\\ 321\\ 334\\ 317\\ 329\\ 324\\ 320\\ 331\\ 326\\
328\\ 322\\ 331\\ 318\\ 327\\ 333\\ 322\\ 328\\ 325\\ 320\\
324\\ 331\\ 318\\ 327\\ 323\\ 314\\ 329\\ 325\\ 333\\ 321\\
330\\ 324\\ 327\\ 335\\ 329\\ 332\\ 323\\ 328\\ 334\\ 322\\
330\\ 318\\ 326\\ 333\\ 322\\ 329\\ 336\\ 324\\ 330\\ 321\\
325\\ 318\\ 322\\ 329\\ 317\\ 324\\ 320\\ 326\\ 319\\ 315\\
318\\ 309\\ 315\\ 320\\ 311\\ 322\\ 317\\ 313\\ 321\\ 318\\
};
\end{axis}
\begin{axis}[twin, at={(1247pt,253.5pt)}, ymin=300, ymax=342.3, ytick={315,330}]\end{axis}

\begin{axis}[panel, at={(708pt,159pt)}, width=537pt, ymin=139, ymax=643,
  ytick={150,300,450,600}, yticklabels={150,300,450,600}, ylabel={SASA (\textit{Å}\textsuperscript{2})}]
\addplot[dat, cSASA] table[x expr=\coordindex*2.5, y index=0, header=false, row sep=\\] {
180\\ 445\\ 430\\ 400\\ 330\\ 305\\ 315\\ 300\\ 310\\ 305\\
312\\ 300\\ 308\\ 315\\ 302\\ 310\\ 320\\ 595\\ 330\\ 600\\
520\\ 540\\ 505\\ 515\\ 600\\ 595\\ 300\\ 520\\ 490\\ 510\\
600\\ 480\\ 380\\ 300\\ 390\\ 350\\ 410\\ 320\\ 600\\ 380\\
600\\ 400\\ 590\\ 380\\ 600\\ 420\\ 300\\ 600\\ 600\\ 390\\
290\\ 600\\ 310\\ 350\\ 610\\ 360\\ 380\\ 600\\ 340\\ 610\\
370\\ 330\\ 600\\ 350\\ 310\\ 600\\ 340\\ 320\\ 600\\ 300\\
320\\ 310\\ 330\\ 380\\ 370\\ 390\\ 300\\ 380\\ 600\\ 360\\
600\\ 340\\ 330\\ 320\\ 345\\ 330\\ 325\\ 340\\ 335\\ 320\\
330\\ 340\\ 310\\ 350\\ 335\\ 360\\ 325\\ 340\\ 320\\ 345\\
335\\ 420\\ 350\\ 330\\ 360\\ 340\\ 330\\ 355\\ 345\\ 340\\
600\\ 350\\ 590\\ 340\\ 345\\ 335\\ 350\\ 340\\ 345\\ 335\\
595\\ 510\\ 480\\ 420\\ 340\\ 380\\ 310\\ 420\\ 350\\ 300\\
590\\ 360\\ 600\\ 340\\ 380\\ 580\\ 350\\ 400\\ 330\\ 380\\
600\\ 360\\ 600\\ 420\\ 600\\ 350\\ 600\\ 600\\ 380\\ 600\\
420\\ 600\\ 390\\ 400\\ 350\\ 420\\ 380\\ 330\\ 400\\ 370\\
350\\ 600\\ 380\\ 600\\ 360\\ 400\\ 340\\ 600\\ 350\\ 380\\
340\\ 350\\ 600\\ 340\\ 355\\ 600\\ 330\\ 350\\ 600\\ 340\\
330\\ 350\\ 300\\ 320\\ 290\\ 310\\ 300\\ 285\\ 310\\ 300\\
295\\ 320\\ 290\\ 310\\ 300\\ 420\\ 440\\ 380\\ 390\\ 220\\
280\\
};
\end{axis}
\begin{axis}[twin, at={(1247pt,159pt)}, ymin=139, ymax=643, ytick={150,300,450,600}]\end{axis}

\begin{axis}[panel, at={(708pt,64.5pt)}, width=537pt, ymin=380.7, ymax=503.5,
  ytick={400,440,480}, yticklabels={400,440,480}, ylabel={RSA (\textit{Å}\textsuperscript{2})},
  xticklabels={0,100,200,300,400,500}]
\addplot[dat, cRSA] table[x expr=\coordindex*2.5, y index=0, header=false, row sep=\\] {
442\\ 478\\ 488\\ 470\\ 448\\ 485\\ 492\\ 480\\ 488\\ 494\\
483\\ 490\\ 462\\ 487\\ 493\\ 481\\ 489\\ 495\\ 484\\ 491\\
486\\ 496\\ 480\\ 489\\ 475\\ 487\\ 482\\ 490\\ 478\\ 485\\
480\\ 486\\ 474\\ 479\\ 455\\ 470\\ 438\\ 466\\ 472\\ 460\\
475\\ 455\\ 468\\ 478\\ 409\\ 462\\ 472\\ 458\\ 480\\ 465\\
452\\ 470\\ 462\\ 478\\ 445\\ 468\\ 399\\ 473\\ 460\\ 476\\
464\\ 471\\ 455\\ 480\\ 466\\ 458\\ 475\\ 448\\ 470\\ 462\\
476\\ 458\\ 469\\ 482\\ 463\\ 474\\ 455\\ 478\\ 466\\ 472\\
470\\ 478\\ 465\\ 396\\ 472\\ 415\\ 480\\ 468\\ 474\\ 466\\
484\\ 472\\ 480\\ 468\\ 478\\ 470\\ 482\\ 466\\ 475\\ 462\\
470\\ 465\\ 474\\ 460\\ 468\\ 458\\ 465\\ 462\\ 460\\ 464\\
458\\ 466\\ 460\\ 455\\ 463\\ 458\\ 462\\ 456\\ 465\\ 470\\
485\\ 412\\ 478\\ 470\\ 488\\ 462\\ 492\\ 496\\ 475\\ 480\\
468\\ 482\\ 472\\ 485\\ 431\\ 476\\ 464\\ 488\\ 470\\ 478\\
466\\ 482\\ 474\\ 420\\ 479\\ 485\\ 470\\ 412\\ 483\\ 476\\
468\\ 486\\ 474\\ 480\\ 402\\ 478\\ 486\\ 472\\ 480\\ 468\\
476\\ 484\\ 470\\ 482\\ 488\\ 478\\ 496\\ 482\\ 474\\ 486\\
470\\ 407\\ 480\\ 474\\ 488\\ 476\\ 482\\ 470\\ 486\\ 478\\
472\\ 485\\ 476\\ 480\\ 456\\ 448\\ 388\\ 452\\ 440\\ 446\\
450\\ 442\\ 455\\ 438\\ 448\\ 444\\ 452\\ 446\\ 458\\ 448\\
457\\
};
\addplot[dat, cRSA] table[x expr=\coordindex*2.5+1.25, y index=0, header=false, row sep=\\] {
480\\ 472\\ 490\\ 483\\ 430\\ 478\\ 488\\ 494\\ 482\\ 489\\
490\\ 486\\ 493\\ 480\\ 488\\ 490\\ 485\\ 492\\ 478\\ 487\\
492\\ 484\\ 488\\ 493\\ 482\\ 478\\ 490\\ 484\\ 487\\ 480\\
484\\ 478\\ 482\\ 468\\ 474\\ 462\\ 470\\ 476\\ 458\\ 470\\
466\\ 474\\ 460\\ 470\\ 462\\ 476\\ 455\\ 470\\ 465\\ 472\\
468\\ 462\\ 475\\ 430\\ 472\\ 465\\ 478\\ 455\\ 470\\ 466\\
470\\ 460\\ 476\\ 468\\ 462\\ 472\\ 458\\ 474\\ 464\\ 468\\
462\\ 474\\ 470\\ 458\\ 478\\ 466\\ 472\\ 460\\ 476\\ 470\\
474\\ 466\\ 430\\ 478\\ 470\\ 462\\ 476\\ 470\\ 480\\ 472\\
474\\ 480\\ 470\\ 484\\ 474\\ 478\\ 468\\ 480\\ 472\\ 470\\
466\\ 472\\ 462\\ 470\\ 464\\ 461\\ 468\\ 458\\ 466\\ 462\\
462\\ 459\\ 466\\ 458\\ 461\\ 466\\ 459\\ 464\\ 462\\ 474\\
478\\ 470\\ 488\\ 475\\ 482\\ 480\\ 476\\ 485\\ 470\\ 482\\
476\\ 470\\ 478\\ 465\\ 480\\ 472\\ 482\\ 476\\ 468\\ 484\\
478\\ 470\\ 480\\ 476\\ 472\\ 482\\ 466\\ 478\\ 474\\ 470\\
480\\ 476\\ 470\\ 484\\ 476\\ 470\\ 482\\ 478\\ 474\\ 482\\
482\\ 474\\ 480\\ 486\\ 474\\ 482\\ 478\\ 488\\ 480\\ 476\\
480\\ 476\\ 484\\ 470\\ 478\\ 482\\ 474\\ 480\\ 476\\ 484\\
478\\ 470\\ 480\\ 472\\ 462\\ 452\\ 444\\ 456\\ 448\\ 438\\
446\\ 454\\ 440\\ 452\\ 446\\ 450\\ 442\\ 454\\ 448\\ 452\\
};
\end{axis}
\begin{axis}[twin, at={(1247pt,64.5pt)}, ymin=380.7, ymax=503.5, ytick={400,440,480}]\end{axis}

\node[anchor=base, font=\capfont\fontsize{18.4}{19}\selectfont] at (307.5pt,6pt) {(a) Violacein Ligand properties};
\node[anchor=base, font=\capfont\fontsize{18.4}{19}\selectfont] at (946pt,6pt) {(b) GDP Ligand properties};
\end{tikzpicture}
\end{document}
